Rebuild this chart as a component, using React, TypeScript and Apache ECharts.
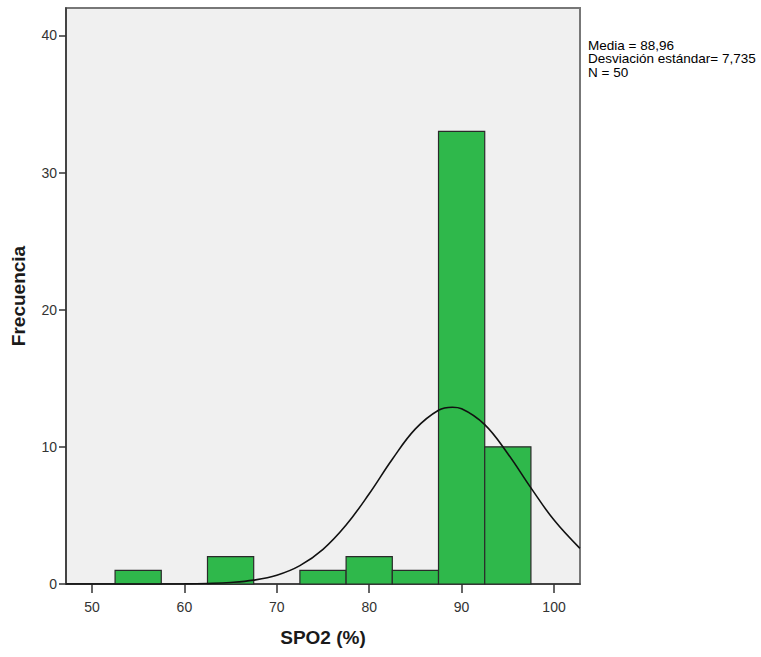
import React, { useEffect, useRef } from "react";
import * as echarts from "echarts";

// Histogram bins (lower edge, upper edge) and frequencies
const binStarts = [52.5, 57.5, 62.5, 67.5, 72.5, 77.5, 82.5, 87.5, 92.5];
const binEnds = [57.5, 62.5, 67.5, 72.5, 77.5, 82.5, 87.5, 92.5, 97.5];
const frequencies = [1, 0, 2, 0, 1, 2, 1, 33, 10];

// Fitted normal curve
const curveX = [47.2, 55, 60, 62.5, 65, 67.5, 70, 72.5, 75, 77.5, 80, 82.5, 85, 87.5, 89, 90, 92.5, 95, 97.5, 100, 102.8];
const curveY = [0, 0, 0.01, 0.04, 0.11, 0.28, 0.64, 1.34, 2.53, 4.3, 6.58, 9.1, 11.31, 12.67, 12.89, 12.78, 11.62, 9.5, 7.01, 4.66, 2.6];

const xTicks = [50, 60, 70, 80, 90, 100];
const yTicks = [0, 10, 20, 30, 40];

const statLines = ["Media = 88,96", "Desviación estándar= 7,735", "N = 50"];

export default function App() {
  const ref = useRef<HTMLDivElement>(null);
  useEffect(() => {
    if (!ref.current) return;
    const chart = echarts.init(ref.current, undefined, { renderer: "svg" });
    const font = "Arial, 'Liberation Sans', sans-serif";
    const barData = binStarts.map((s, i) => [s, binEnds[i], frequencies[i]]).filter((d) => d[2] > 0);
    chart.setOption({
      animation: false,
      backgroundColor: "#ffffff",
      grid: {
        left: 66,
        right: 181,
        top: 8,
        bottom: 73,
        containLabel: false,
        outerBoundsMode: "none",
        show: true,
        backgroundColor: "#f0f0f0",
        borderColor: "#777777",
        borderWidth: 2,
      },
      xAxis: {
        type: "value",
        min: 47.19,
        max: 102.81,
        name: "SPO2 (%)",
        nameLocation: "middle",
        nameGap: 44,
        nameTextStyle: { fontFamily: font, fontSize: 19, fontWeight: "bold", color: "#1a1a1a" },
        splitLine: { show: false },
        axisLine: { show: true, onZero: false, lineStyle: { color: "#333", width: 1.5 } },
        axisTick: { show: true, length: 9, lineStyle: { color: "#333", width: 1.5 }, customValues: xTicks },
        axisLabel: { fontFamily: font, fontSize: 14, color: "#333", margin: 16, customValues: xTicks },
      },
      yAxis: {
        type: "value",
        min: 0,
        max: 42,
        name: "Frecuencia",
        nameLocation: "middle",
        nameGap: 38,
        nameTextStyle: { fontFamily: font, fontSize: 19, fontWeight: "bold", color: "#1a1a1a" },
        splitLine: { show: false },
        axisLine: { show: true, lineStyle: { color: "#333", width: 1.5 } },
        axisTick: { show: true, length: 7, lineStyle: { color: "#333", width: 1.5 }, customValues: yTicks },
        axisLabel: { fontFamily: font, fontSize: 14, color: "#333", margin: 9, customValues: yTicks },
      },
      series: [
        {
          type: "custom",
          data: barData,
          encode: { x: [0, 1], y: 2 },
          renderItem: (params: any, api: any) => {
            const p0 = api.coord([api.value(0), api.value(2)]);
            const p1 = api.coord([api.value(1), 0]);
            return {
              type: "rect",
              shape: { x: p0[0], y: p0[1], width: p1[0] - p0[0], height: p1[1] - p0[1] },
              style: { fill: "#2fb84b", stroke: "#2a2a2a", lineWidth: 1.2 },
            };
          },
          z: 2,
        },
        {
          type: "line",
          data: curveX.map((x, i) => [x, curveY[i]]),
          smooth: 0.4,
          symbol: "none",
          lineStyle: { color: "#111", width: 1.6 },
          z: 3,
        },
      ],
      graphic: statLines.map((t, i) => ({
        type: "text",
        left: 588,
        top: 38 + i * 13.5,
        style: { text: t, fontFamily: font, fontSize: 13.5, fill: "#000" },
      })),
    });
    return () => chart.dispose();
  }, []);
  return <div ref={ref} style={{ position: "absolute", left: 0, top: 0, width: 761, height: 657 }} />;
}
